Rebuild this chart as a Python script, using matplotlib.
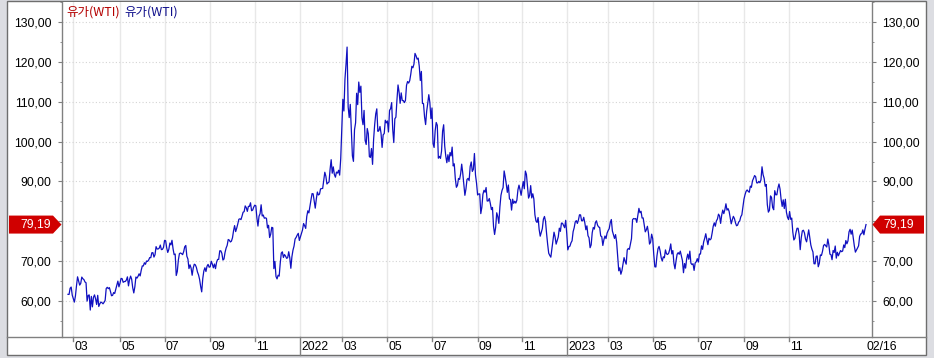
import matplotlib
matplotlib.use('Agg')
import matplotlib.pyplot as plt
import matplotlib.patches as mpatches
from matplotlib.lines import Line2D
from matplotlib.transforms import IdentityTransform
import numpy as np
import pandas as pd

plt.rcParams['font.family'] = ['Liberation Sans', 'DejaVu Sans']

# trading calendar (NYMEX WTI settlements)
start_date = '2021-02-22'
end_date = '2024-02-16'
market_holidays = ['2021-04-02', '2021-05-31', '2021-07-05', '2021-09-06', '2021-11-25', '2021-12-24',
                   '2022-01-17', '2022-02-21', '2022-04-15', '2022-05-30', '2022-06-20', '2022-07-04',
                   '2022-09-05', '2022-11-24', '2022-12-26',
                   '2023-01-02', '2023-01-16', '2023-02-20', '2023-04-07', '2023-05-29', '2023-06-19',
                   '2023-07-04', '2023-09-04', '2023-11-23', '2023-12-25',
                   '2024-01-01', '2024-01-15']

# daily closes
wti_2021 = [61.70, 61.67, 63.22, 63.53, 61.50,
            60.64, 59.75, 61.28, 63.83, 66.09, 65.05, 64.01, 64.44, 66.02, 65.61, 65.39, 64.80, 64.60, 60.00, 61.42,
            61.55, 57.76, 61.18, 58.56, 60.97, 61.56, 60.55, 59.16,
            61.45, 58.65, 59.33, 59.77, 59.60, 59.32, 59.70, 60.18, 63.15, 63.46, 63.13, 63.38, 62.44, 61.35, 61.43,
            62.14, 61.91, 62.94, 63.86, 65.01, 63.58,
            64.49, 65.69, 65.63, 64.71, 64.90, 64.92, 65.28, 66.08, 63.82, 65.37, 66.27, 65.49, 63.36, 62.05, 63.58,
            66.05, 65.76, 66.21, 66.85, 66.32,
            67.72, 68.83, 68.81, 69.62, 69.23, 70.05, 69.96, 70.29, 70.91, 70.88, 72.12, 72.15, 71.04, 71.64, 73.66,
            73.06, 73.08, 73.30, 74.05, 72.91, 72.98, 73.47,
            75.23, 75.16, 73.37, 72.20, 72.94, 74.56, 74.10, 75.25, 73.13, 71.65, 71.81, 66.42, 67.42, 70.30, 71.91,
            72.07, 71.91, 71.65, 72.39, 73.62, 73.95,
            71.26, 70.56, 68.15, 69.09, 68.28, 66.48, 68.29, 69.25, 69.09, 68.44, 67.29, 66.59, 65.46, 63.69, 62.32,
            65.64, 67.54, 68.36, 67.42, 68.74, 69.21, 68.50,
            68.59, 69.99, 69.29, 68.35, 69.30, 68.14, 69.72, 70.45, 70.46, 72.61, 72.61, 71.97, 70.29, 70.56, 72.23,
            73.30, 73.98, 75.45, 75.29, 74.83, 75.03,
            75.88, 77.62, 78.93, 77.43, 78.30, 79.35, 80.52, 80.64, 80.44, 81.31, 82.28, 82.44, 83.87, 83.42, 82.50,
            83.76, 83.76, 84.65, 82.66, 82.81, 83.57,
            84.05, 83.91, 80.86, 78.81, 81.27, 81.93, 84.15, 81.34, 81.59, 80.79, 80.88, 80.76, 78.36, 79.01, 75.94,
            76.75, 78.50, 78.39, 68.15, 69.95, 66.18,
            65.57, 66.50, 66.26, 69.49, 72.05, 72.36, 70.94, 71.67, 71.29, 70.73, 70.87, 72.38, 70.86, 68.23, 71.12,
            72.76, 73.79, 75.57, 75.98, 76.56, 76.99, 75.21]
wti_2022 = [76.08, 76.99, 77.85, 79.46, 78.90, 78.23, 81.22, 82.64, 82.12, 83.82, 85.43, 86.96, 86.90, 85.14, 83.31,
            85.60, 87.35, 86.61, 86.82, 88.15,
            88.20, 88.26, 90.27, 92.31, 91.32, 89.36, 89.66, 89.88, 93.10, 95.46, 92.07, 93.66, 91.76, 91.07, 92.35,
            92.10, 92.81, 91.59, 95.72,
            103.41, 110.60, 107.67, 115.68, 119.40, 123.70, 108.70, 106.02, 109.33, 103.01, 96.44, 95.04, 102.98,
            104.70, 112.12, 109.27, 114.93, 112.34, 113.90, 105.96, 104.24, 107.82, 100.28,
            99.27, 103.28, 101.96, 96.23, 96.03, 98.26, 94.29, 100.60, 104.25, 106.95, 108.21, 102.56, 102.75, 103.79,
            102.07, 98.54, 101.70, 102.02, 105.36, 104.69,
            105.17, 102.41, 107.81, 108.26, 109.77, 103.09, 99.76, 105.71, 106.13, 110.49, 114.20, 112.40, 109.59,
            112.21, 110.28, 110.29, 109.77, 110.33, 114.09, 115.07, 114.67,
            115.26, 116.87, 118.87, 118.50, 119.41, 122.11, 121.51, 120.67, 120.93, 118.93, 115.31, 117.59, 109.56,
            109.52, 106.19, 104.27, 107.62, 109.57, 111.76, 109.78, 105.76,
            108.43, 99.50, 98.53, 102.73, 104.79, 104.09, 95.84, 96.30, 95.78, 97.59, 102.60, 104.22, 98.88, 96.35,
            94.70, 96.70, 94.98, 97.26, 96.42, 98.62,
            93.89, 94.42, 90.66, 88.54, 89.01, 90.76, 90.50, 91.93, 94.34, 92.09, 89.41, 86.53, 88.11, 90.50, 90.77,
            90.23, 93.74, 94.89, 92.52, 93.06, 97.01, 91.64, 89.55,
            86.61, 86.87, 86.88, 81.94, 83.54, 86.79, 87.78, 87.31, 88.48, 85.10, 85.11, 85.73, 84.45, 82.94, 83.49,
            78.74, 76.71, 78.50, 82.15, 81.23, 79.49,
            83.63, 86.52, 87.76, 88.45, 92.64, 91.13, 89.35, 87.27, 89.11, 85.61, 85.46, 82.82, 85.55, 84.51, 85.05,
            84.58, 85.32, 87.91, 89.08, 87.90, 86.53,
            88.37, 90.00, 88.17, 92.61, 91.79, 88.91, 85.83, 86.47, 88.96, 85.87, 86.92, 85.59, 81.64, 80.08, 79.73,
            80.95, 77.94, 76.28, 77.24, 78.20, 80.55,
            81.22, 79.98, 76.93, 74.25, 72.01, 71.46, 71.02, 73.17, 75.39, 77.28, 76.11, 74.29, 75.19, 76.09, 78.29,
            77.49, 79.56, 79.53, 78.96, 78.40, 80.26]
wti_2023 = [76.93, 72.84, 73.67, 73.77, 74.63, 75.12, 77.41, 78.39, 79.86, 80.18, 79.48, 80.33, 81.64, 81.62, 80.13,
            80.15, 81.01, 79.68, 77.90, 78.87,
            76.41, 75.88, 73.39, 74.11, 77.14, 78.47, 78.06, 79.72, 80.14, 79.06, 78.59, 78.49, 76.34, 76.16, 73.95,
            75.39, 76.32, 75.68, 77.05,
            77.69, 78.16, 79.68, 80.46, 77.58, 76.66, 75.72, 76.68, 74.80, 71.33, 67.61, 68.35, 66.74, 67.64, 69.33,
            70.90, 69.96, 69.26, 72.81, 73.20, 72.97, 74.37, 75.67,
            80.42, 80.71, 80.61, 80.70, 79.74, 81.53, 83.26, 82.16, 82.52, 80.83, 80.86, 79.16, 77.37, 77.87, 78.76,
            77.07, 74.30, 74.76, 76.78,
            75.66, 71.66, 68.60, 68.56, 71.34, 73.16, 73.71, 72.56, 70.87, 70.04, 71.11, 70.86, 72.83, 71.86, 71.69,
            71.99, 72.91, 74.34, 71.83, 72.67, 69.46, 68.09,
            70.10, 71.74, 72.15, 71.74, 72.53, 71.29, 70.17, 67.12, 69.42, 68.27, 70.62, 71.78, 70.50, 72.53, 69.51,
            69.16, 69.37, 67.70, 69.56, 69.86, 70.64,
            69.79, 71.79, 71.80, 73.86, 72.99, 74.83, 75.75, 76.89, 75.42, 74.15, 75.75, 75.35, 75.63, 77.07, 78.74,
            79.63, 78.78, 80.09, 80.58, 81.80,
            81.37, 79.49, 81.55, 82.82, 81.94, 82.92, 84.40, 82.82, 83.19, 82.51, 80.99, 79.38, 80.39, 81.25, 80.72,
            79.64, 78.89, 79.05, 79.83, 80.10, 81.16, 81.63, 83.63,
            85.55, 86.69, 87.54, 87.87, 87.51, 87.29, 88.84, 88.52, 90.16, 90.77, 91.48, 91.20, 89.66, 89.63, 90.03,
            89.68, 90.39, 93.68, 91.71, 90.79,
            88.82, 89.23, 84.22, 82.31, 82.79, 86.38, 85.97, 83.49, 82.91, 87.69, 86.66, 86.66, 88.32, 89.37, 88.08,
            85.49, 83.74, 85.39, 83.21, 85.54, 82.31, 81.02,
            80.44, 82.46, 80.51, 80.82, 77.37, 75.33, 75.74, 77.17, 78.26, 78.26, 76.66, 72.90, 75.89, 77.60, 77.77,
            77.10, 75.54, 74.86, 76.41, 77.86, 75.96,
            74.07, 73.04, 72.32, 69.38, 69.34, 71.23, 71.32, 68.61, 69.47, 71.58, 71.43, 72.47, 73.94, 74.22, 73.89,
            73.56, 75.57, 74.11, 71.77, 71.65]
wti_2024 = [70.38, 72.70, 72.19, 73.81, 70.77, 72.24, 71.37, 72.02, 72.68, 72.40, 72.56, 74.08, 73.41, 75.19, 74.37,
            75.09, 77.36, 78.01, 76.78, 77.82, 75.85,
            73.82, 72.28, 72.78, 73.31, 73.86, 76.22, 76.84, 76.92, 77.87, 76.64, 78.03, 79.19]

y_major = list(range(60, 131, 10))
y_minor = list(range(55, 136, 10))
legend_label = '유가(WTI)'

prices = wti_2021 + wti_2022 + wti_2023 + wti_2024
dates = pd.bdate_range(start_date, end_date, freq='C', holidays=market_holidays)
dates = dates[-len(prices):]
x = np.arange(len(prices))
last = prices[-1]

W, H = 934, 358
fig = plt.figure(figsize=(W / 100, H / 100), dpi=100, facecolor='#dcdde2')

# white panel
panel = mpatches.Rectangle((7 / W, 3 / H), 919 / W, 354 / H, transform=fig.transFigure,
                           facecolor='white', edgecolor='#6e6e6e', lw=1, zorder=-5)
fig.add_artist(panel)

ax = fig.add_axes([62 / W, 21 / H, 810 / W, 335 / H])
ax.set_facecolor('white')
pad = 5.65
ax.set_xlim(-pad, len(prices) - 1 + pad)
ax.set_ylim(51.0, 134.3)

ax.plot(x, prices, color='#1010c0', lw=0.9, zorder=3)

# y axis on both sides
ax.set_yticks(y_major)
ax.set_yticks(y_minor, minor=True)
ax.set_yticklabels([f'{v:.2f}'.replace('.', ',') for v in y_major])
ax.tick_params(axis='y', which='both', direction='out', left=True, right=True,
               labelleft=True, labelright=True, color='#808080', labelsize=8.8, labelcolor='black')
ax.tick_params(axis='y', which='major', length=3.2, pad=4.3)
ax.tick_params(axis='y', which='minor', length=1.5)
ax.set_xticks([])
for s in ['top', 'bottom']:
    ax.spines[s].set_visible(False)
for s in ['left', 'right']:
    ax.spines[s].set_color('#808080')
    ax.spines[s].set_linewidth(1)

for v in y_major:
    ax.axhline(v, color='#d4d4d4', lw=0.8, ls=(0, (1, 2)), zorder=1)

# month ticks on the time strip
ticks = []
for i in range(len(dates)):
    d = dates[i]
    if i == 0 or dates[i - 1].month != d.month:
        if d.month % 2 == 1 and i < len(dates) - 40:
            ticks.append((i, d))

xt = ax.get_xaxis_transform()
for i, d in ticks:
    ax.axvline(i, color='#e8e8e8', lw=1, zorder=0)
    if d.month == 1:
        lab = str(d.year)
        ax.add_line(Line2D([i, i], [0, -18 / 335], transform=xt, color='#808080', lw=1, clip_on=False))
    else:
        lab = f'{d.month:02d}'
        ax.add_line(Line2D([i, i], [0, -4 / 335], transform=xt, color='#808080', lw=1, clip_on=False))
    ax.text(i + 1.2, -9.5 / 335, lab, transform=xt, ha='left', va='center', fontsize=8.8, clip_on=False)

ax.text(len(prices) - 1, -9.5 / 335, dates[-1].strftime('%m/%d'), transform=xt, ha='left', va='center',
        fontsize=8.8, clip_on=False)

fig.add_artist(Line2D([7 / W, 926 / W], [21 / H, 21 / H], transform=fig.transFigure, color='#808080', lw=1))

# legend text
fig.text(66, H - 12, legend_label, transform=IdentityTransform(), color='#b40000', fontsize=9,
         family=['Noto Sans CJK KR', 'DejaVu Sans'], ha='left', va='center')
fig.text(124.5, H - 12, legend_label, transform=IdentityTransform(), color='#10108c', fontsize=9,
         family=['Noto Sans CJK KR', 'DejaVu Sans'], ha='left', va='center')

# last value markers
yd = ax.transData.transform((0, last))[1]
lab = f'{last:.2f}'.replace('.', ',')
left_pts = [(9, yd - 9), (53, yd - 9), (61.5, yd), (53, yd + 9), (9, yd + 9)]
right_pts = [(872.5, yd), (880, yd - 9), (924, yd - 9), (924, yd + 9), (880, yd + 9)]
for pts in [left_pts, right_pts]:
    fig.add_artist(mpatches.Polygon(pts, closed=True, transform=IdentityTransform(),
                                    facecolor='#d00000', edgecolor='none', zorder=5))
fig.text(51, yd, lab, transform=IdentityTransform(), color='white', fontsize=8.8,
         ha='right', va='center', zorder=6)
fig.text(883, yd, lab, transform=IdentityTransform(), color='white', fontsize=8.8,
         ha='left', va='center', zorder=6)

fig.savefig('out.png', dpi=100, facecolor=fig.get_facecolor())
